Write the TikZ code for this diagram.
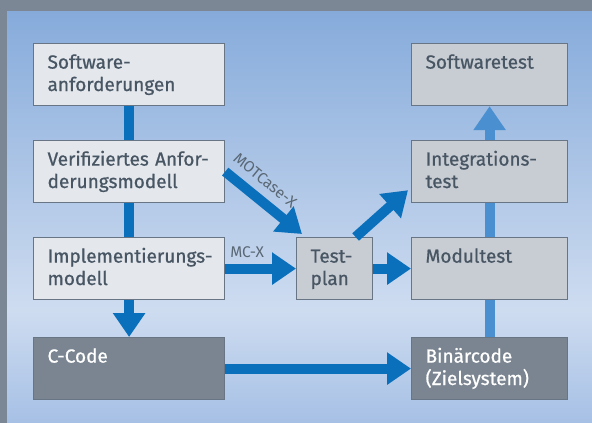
\documentclass[tikz,border=0pt]{standalone}
\usepackage{fontspec}
\setmainfont{Fira Sans}
\newfontfamily\stagefont{Fira Sans}[FakeBold=0.8]
\usetikzlibrary{arrows.meta,calc}
\definecolor{frame}{HTML}{7B8795}
\definecolor{skytop}{HTML}{86ABDB}
\definecolor{skymid}{HTML}{CEDCF0}
\definecolor{skybot}{HTML}{A6C0E5}
\definecolor{flow}{HTML}{0A70BC}
\definecolor{testflow}{HTML}{4A90D0}
\definecolor{ink}{HTML}{485664}
\definecolor{boxline}{HTML}{687584}
\definecolor{paleface}{HTML}{E4E7EC}
\definecolor{greyface}{HTML}{C8CCD3}
\definecolor{darkface}{HTML}{7A8591}
\tikzset{
  stage/.style = {draw=boxline, line width=1.2pt, fill=paleface, text=ink,
    font=\stagefont\fontsize{19}{22.4}\selectfont, align=left, anchor=north west,
    inner xsep=14pt, inner ysep=12pt, text height=13pt, text depth=25pt,
    text width=163pt},
  test/.style = {stage, fill=greyface, text width=128pt},
  code/.style = {stage, fill=darkface, text=white},
  flowline/.style = {line width=10pt, draw=flow},
  flowarrow/.style = {flowline, -{Triangle[width=31pt,length=24pt]}},
  testline/.style = {line width=10pt, draw=testflow},
  testarrow/.style = {testline, -{Triangle[width=31pt,length=24pt]}},
  lbl/.style = {text=ink!90, font=\fontsize{15.5}{17}\selectfont, inner sep=1pt}
}

\begin{document}
\begin{tikzpicture}[x=1pt,y=-1pt]
  \useasboundingbox (0,0) rectangle (592,423);
  % background
  \shade[top color=skytop, bottom color=skymid] (7,11) rectangle (592,310);
  \shade[top color=skymid, bottom color=skybot] (7,310) rectangle (592,423);
  \fill[frame] (0,0) rectangle (592,11);
  \fill[frame] (0,0) rectangle (7,423);

  % left column
  \node[stage] (soft) at (33,43) {\mbox{Software-}\\\mbox{anforderungen}};
  \node[stage] (verif) at (33,140) {\mbox{Verifiziertes Anfor-}\\\mbox{derungsmodell}};
  \node[stage] (impl) at (33,237) {\mbox{Implementierungs-}\\\mbox{modell}};
  \node[code] (ccode) at (33,337) {C-Code};

  % right column
  \node[test] (swtest) at (411,43) {Softwaretest};
  \node[test] (integ) at (411,140) {\mbox{Integrations-}\\\mbox{test}};
  \node[test] (modul) at (411,237) {Modultest};
  \node[code, text width=128pt] (bin) at (411,337) {Binärcode\\\mbox{(Zielsystem)}};

  \node[test, text width=48pt] (plan) at (296,237) {\mbox{Test-}\\\mbox{plan}};

  \draw[flowline] (soft) -- (verif);
  \draw[flowline] (verif) -- (impl);
  \draw[flowarrow] (impl) -- (ccode);

  \draw[testline] (bin) -- (modul);
  \draw[testline] (modul) -- (integ);
  \draw[testarrow] (integ) -- (swtest);

  \draw[flowarrow] (verif.east) -- node[lbl, sloped, pos=0.37, above=7pt] {MOTCase-X}
    ($(plan.north west)+(6,-3)$);
  \draw[flowarrow] (impl) -- node[lbl, pos=0.31, above=5pt] {MC-X} (plan);
  \draw[flowarrow] ($(plan.north)+(21,0)$) -- ($(integ.south west)+(-3,-13)$);
  \draw[flowarrow] (plan) -- (modul);
  \draw[flowarrow] (ccode) -- (bin);
\end{tikzpicture}
\end{document}
